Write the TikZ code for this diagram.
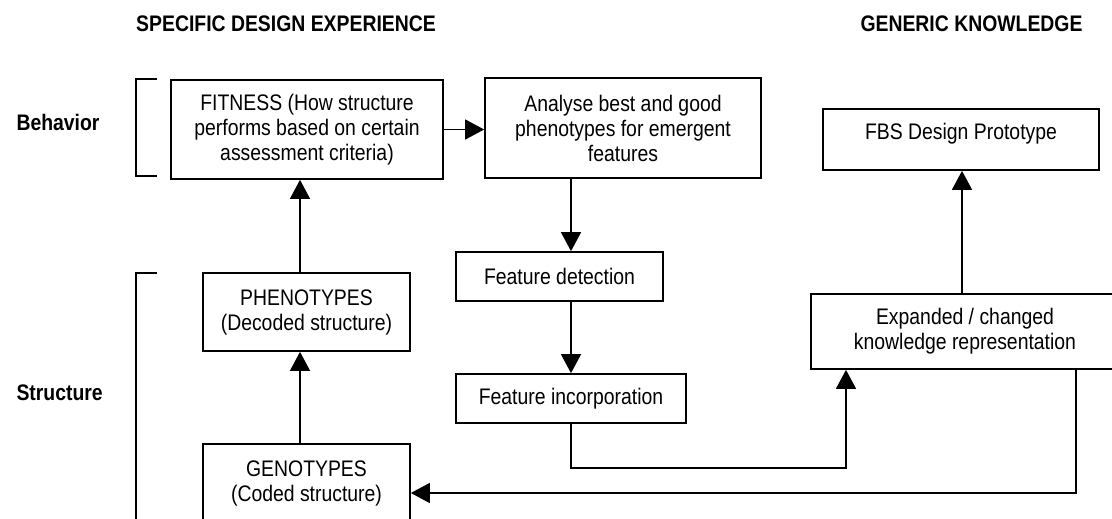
\documentclass[tikz,border=0pt]{standalone}
\usepackage{fontspec}
\setmainfont[FakeStretch=0.862]{Liberation Sans}
\usetikzlibrary{arrows.meta,calc}

\begin{document}
\begin{tikzpicture}[x=1pt,y=1pt,
  every node/.style={font=\fontsize{22.5}{25}\selectfont},
  box/.style={draw, line width=1.7pt, inner sep=0pt, align=center},
  arr/.style={line width=1.4pt, -{Triangle[length=19pt,width=20pt]}},
  bracket/.style={line width=1.3pt},
  heading/.style={font=\fontsize{22.5}{25}\selectfont\bfseries}
]
% canvas
\useasboundingbox (0,0) rectangle (1112,-519);
\fill[white] (0,0) rectangle (1112,-519);
\clip (0,0) rectangle (1112,-519);

% column headings and row labels
\node[heading, anchor=base] (hspec) at (286,-32) {SPECIFIC DESIGN EXPERIENCE};
\node[heading, anchor=base] (hgen) at (971.5,-32) {GENERIC KNOWLEDGE};
\node[heading, anchor=base west] (lbeh) at (13,-130) {Behavior};
\node[heading, anchor=base west] (lstr) at (13,-400) {Structure};

% brackets grouping the rows
\draw[bracket] (157,-79) -- (136,-79) -- (136,-176) -- (157,-176);
\draw[bracket] (157,-273) -- (136,-273) -- (136,-530);

% process boxes
\node[box, minimum width=272, minimum height=99] (fit) at (307,-129.5)
  {FITNESS (How structure\\performs based on certain\\assessment criteria)};
\node[box, minimum width=276, minimum height=100] (ana) at (623,-128)
  {Analyse best and good\\phenotypes for emergent\\features};
\node[box, minimum width=276, minimum height=61] (fbs) at (961,-139.5) {};
\node (fbstext) at (961,-134) {FBS Design Prototype};
\node[box, minimum width=207, minimum height=49] (det) at (559.5,-276.5) {Feature detection};
\node[box, minimum width=230, minimum height=49] (inc) at (571,-398.5) {Feature incorporation};
\node[box, minimum width=308, minimum height=75] (exp) at (965,-331.5)
  {Expanded / changed\\knowledge representation};
\node[box, minimum width=207, minimum height=78] (phe) at (306.5,-312)
  {PHENOTYPES\\(Decoded structure)};
\node[box, minimum width=207, minimum height=78] (gen) at (306.5,-483)
  {GENOTYPES\\(Coded structure)};

% connector columns and turning points
\coordinate (colA) at (300,0);
\coordinate (colB) at (571,0);
\coordinate (colC) at (962,0);
\coordinate (j1) at (846,-468);
\coordinate (j2) at (1076,-493);

% connectors
\draw[arr] (gen.north -| colA) -- (phe.south -| colA);
\draw[arr] (phe.north -| colA) -- (fit.south -| colA);
\draw[arr] (fit.east) -- (fit.east -| ana.west);
\draw[arr] (ana.south -| colB) -- (det.north -| colB);
\draw[arr] (det.south -| colB) -- (inc.north -| colB);
\draw[arr] (inc.south) |- (j1) -- (exp.south -| j1);
\draw[arr] (exp.north -| colC) -- (fbs.south -| colC);
\draw[arr] (exp.south -| j2) -- (j2) -- (j2 -| gen.east);
\end{tikzpicture}
\end{document}
